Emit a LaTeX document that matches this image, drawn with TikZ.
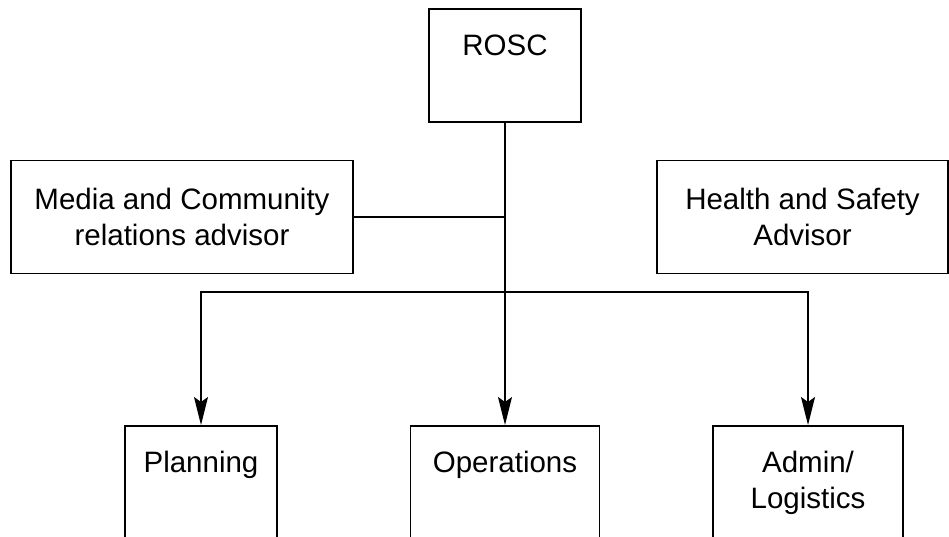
\documentclass[tikz,border=0pt]{standalone}
\usepackage{fontspec}
\setmainfont{Liberation Sans}
\usetikzlibrary{arrows.meta}
\tikzset{
  >={Stealth[length=28pt,width=14pt,inset=5pt]},
  my box/.style={
    draw,
    rectangle,
    line width=1.5pt,
    inner sep=0pt,
    align=center,
    font=\fontsize{29.5}{36}\selectfont
  },
  my top box/.style={
    my box,
    anchor=north,
    text height=47pt
  },
  my link/.style={line width=1.5pt}
}

\begin{document}
\begin{tikzpicture}[x=1pt,y=-1pt]
\clip (0,0) rectangle (949,536);
\node[my top box,minimum width=152pt,text depth=66pt]  (rosc)   at (505,8)   {ROSC};
\node[my box,minimum width=342pt,minimum height=113pt] (media)  at (182,217) {Media and Community\\relations advisor};
\node[my box,minimum width=291pt,minimum height=113pt] (health) at (802.5,217) {Health and Safety\\Advisor};
\node[my top box,minimum width=152pt,text depth=100pt] (plan)   at (201,425) {Planning};
\node[my top box,minimum width=189pt,text depth=100pt] (ops)    at (505,425) {Operations};
\node[my top box,minimum width=190pt,text depth=100pt,text height=83pt] (admin) at (808,425) {Admin/\\Logistics};
\coordinate (split) at (505,292);
\draw[my link,->] (rosc.south) -- (ops.north);
\draw[my link] (media.east) -- (media.east -| rosc.south);
\draw[my link,->] (split) -| (plan.north);
\draw[my link,->] (split) -| (admin.north);
\end{tikzpicture}
\end{document}
